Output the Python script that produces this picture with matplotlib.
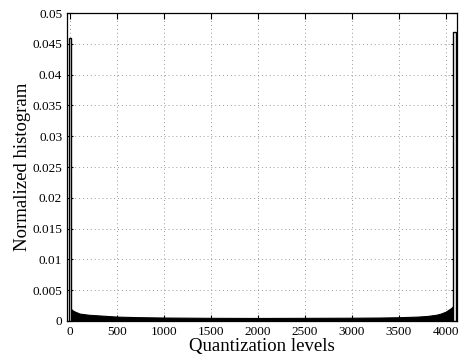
import matplotlib
matplotlib.use("Agg")
import matplotlib.pyplot as plt
import numpy as np

plt.rcParams['font.family'] = ['Liberation Serif', 'DejaVu Serif']

# envelope of the histogram body
levels = [1, 5, 10, 20, 40, 70, 100, 150, 200, 300, 400, 500, 700, 1000,
          1500, 2000, 2500, 3000, 3300, 3500, 3700, 3800, 3900, 3950, 4000,
          4030, 4060, 4080, 4094]
values = [0.0024, 0.0022, 0.0020, 0.0018, 0.0016, 0.0014, 0.0012, 0.0011,
          0.0010, 0.0009, 0.0008, 0.0007, 0.00062, 0.00055, 0.0005, 0.00048,
          0.0005, 0.00052, 0.00055, 0.0006, 0.0007, 0.0008, 0.001, 0.0012,
          0.0015, 0.0018, 0.0021, 0.0024, 0.0026]

# the two end bins
spike_levels = [0, 4095]
spike_values = [0.046, 0.047]

xticks = [0, 500, 1000, 1500, 2000, 2500, 3000, 3500, 4000]
yticks = [0, 0.005, 0.01, 0.015, 0.02, 0.025, 0.03, 0.035, 0.04, 0.045, 0.05]
ytick_labels = ['0', '0.005', '0.01', '0.015', '0.02', '0.025', '0.03',
                '0.035', '0.04', '0.045', '0.05']

fig = plt.figure(figsize=(4.62, 3.55), dpi=100)
ax = fig.add_axes([0.145, 0.096, 0.844, 0.867])

ax.fill_between(levels, 0, values, color='black', linewidth=0.8, zorder=3)
ax.bar(spike_levels, spike_values, width=28, facecolor='white',
       edgecolor='black', linewidth=1.0, zorder=4)

ax.set_xlim(-32, 4120)
ax.set_ylim(0, 0.05)
ax.set_xticks(xticks)
ax.set_yticks(yticks)
ax.set_yticklabels(ytick_labels)
ax.tick_params(direction='in', length=4, labelsize=9.5, width=0.8,
               top=True, right=True)
ax.grid(True, linestyle=(0, (1, 3)), color='#999999', linewidth=0.7)
ax.set_axisbelow(True)
for s in ax.spines.values():
    s.set_linewidth(0.9)

ax.set_xlabel('Quantization levels', fontsize=13.5, labelpad=0)
ax.set_ylabel('Normalized histogram', fontsize=13.5, labelpad=1)

fig.savefig('out.png', dpi=100)
